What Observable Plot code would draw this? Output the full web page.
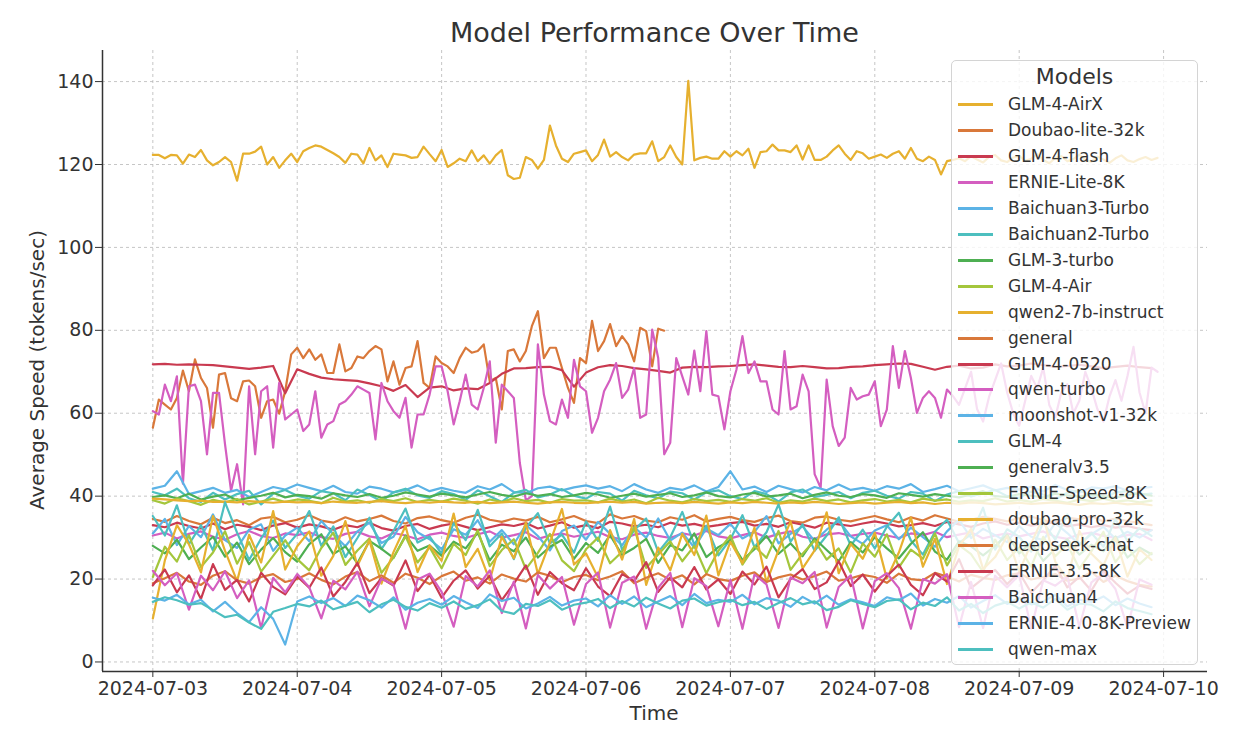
<!DOCTYPE html>
<html><head><meta charset="utf-8">
<script src="https://cdn.jsdelivr.net/npm/d3@7"></script>
<script src="https://cdn.jsdelivr.net/npm/@observablehq/plot@0.6"></script>
<style>
body{margin:0;background:#fff;font-family:"DejaVu Sans",sans-serif;}
#wrap{position:relative;width:1248px;height:730px;overflow:hidden;}
#title{position:absolute;left:102px;width:1105px;top:17px;text-align:center;font-size:27px;color:#333;white-space:nowrap;}
#ylab{position:absolute;left:37px;top:370px;transform:translate(-50%,-50%) rotate(-90deg);font-size:20px;color:#333;white-space:nowrap;}
#xlab{position:absolute;left:654px;top:713px;transform:translate(-50%,-50%);font-size:20px;color:#333;white-space:nowrap;}
#legend{position:absolute;left:951px;top:60px;width:247px;height:605px;background:rgba(255,255,255,0.8);border:1px solid #d4d4d4;border-radius:5px;box-sizing:border-box;}
#legend .lt{position:absolute;left:0;width:100%;top:3px;text-align:center;font-size:22px;color:#333;}
#legend .row{position:absolute;left:0;width:100%;height:24px;}
#legend .sw{position:absolute;left:6px;top:11px;width:35px;height:3px;}
#legend .tx{position:absolute;left:56px;top:0;line-height:24px;font-size:17px;color:#333;white-space:nowrap;}
</style></head>
<body><div id="wrap"><div id="title">Model Performance Over Time</div></div>
<script>
// ---- data ----
const seriesNames = ["GLM-4-AirX","Doubao-lite-32k","GLM-4-flash","ERNIE-Lite-8K","Baichuan3-Turbo","Baichuan2-Turbo","GLM-3-turbo","GLM-4-Air","qwen2-7b-instruct","general","GLM-4-0520","qwen-turbo","moonshot-v1-32k","GLM-4","generalv3.5","ERNIE-Speed-8K","doubao-pro-32k","deepseek-chat","ERNIE-3.5-8K","Baichuan4","ERNIE-4.0-8K-Preview","qwen-max"];
const palette = ["#E6B02F","#D9783A","#C93A50","#D45EC0","#5CB3E6","#4DBFBF","#4EAF52","#A4C63C"];
const startTime = "2024-07-03T00:00:00Z";
// sampling interval (hours) of each series
const stepHours = [1,1,2,1,2,2,2,2,2,2,2,2,2,2,2,2,2,2,2,2,2,2];

const glm4AirX = [122.3,122.3,121.5,122.3,122.2,120.2,122.4,121.8,123.5,121,119.8,120.6,121.8,120.6,116.1,122.6,122.6,123.1,124.3,120,121.8,119.2,121,122.6,120.6,
123.2,124,124.6,124.3,123.5,122.7,121.8,120.4,122.6,122.4,120.3,124,121,122.2,119.4,122.6,122.4,122.2,121.6,121.8,124.3,122.5,120.8,123.5,
119.4,120.3,121.4,120.8,123.4,120.8,122.2,120.2,122.2,123.5,117.4,116.5,116.8,121.8,121.1,119,121.1,
129.4,124.6,121.4,120.6,122.6,123,123.4,120.8,122.3,126,121.9,123,121.8,121,122.4,122.7,122.7,125.6,120.8,121.8,124.6,121.8,120,140.2,121,121.6,121.9,121.4,121.4,123.2,121.9,123.2,122.2,123.8,119.2,123,123.2,124.8,123.4,123.4,123,124.6,121.2,124.6,121.1,121.1,121.9,123.4,124.6,122.6,121.1,123.2,122.7,121.4,121.9,122.4,121.6,122.6,123.2,121.4,124,121.4,120.8,121.9,121.1,117.6,120.8,121.1,
121.5,120.8,122.0,121.2,120.5,121.8,122.3,121.0,120.6,121.7,122.1,120.9,121.4,122.5,121.1,120.3,121.6,122.0,120.8,121.3,122.4,121.0,120.7,121.9,121.2,120.4,121.5,122.2,121.0,120.6,121.3,121.8,121.1,121.6];

const doubaoLite32k = [56.5,63.3,62.1,60.9,63.7,70.3,65.3,73,68.5,66.1,56.5,69.3,69.7,63.6,62.9,67.7,67.9,66.5,58.9,62.9,63.3,59.9,65.3,
74.2,75.8,73.3,75.4,72.9,74.2,69.7,69.7,76.6,70.1,70.9,73.7,73.3,75,76.2,75.4,67.7,72.5,66.9,70.9,71.3,77.4,67.3,66.1,73.7,72.1,71.3,69.7,73.3,75.8,74.6,75,76.6,67.7,68.5,60.9,75,75.4,72.5,75,81,84.6,
73.3,75.8,75.8,70.9,66.1,62.5,73.3,72.1,82.3,75,77.4,81.5,76.2,78.6,76.6,72.5,80.6,79.8,71.3,80.4,79.9];

const glm4Flash = [71.8,71.9,71.7,71.8,71.7,71.6,71.3,71.0,70.7,71.0,71.4,64.8,
70.6,69.5,68.6,68.2,68.0,67.8,67.2,66.5,65.4,66.8,63.9,66.2,
66.5,65.5,66.0,65.8,67.3,69.5,70.8,70.9,71.1,71.2,70.4,66.4,
69.8,71.1,71.6,71.4,70.9,70.6,70.2,69.8,71.0,71.2,71.1,71.3,
71.4,71.6,71.8,71.5,71.2,71.1,71.4,71.1,70.8,70.9,71.2,71.3,
71.6,71.8,72.0,71.9,71.2,70.5,71.2,71.5,70.8,71.0,71.8,71.3,
71.5,72.0,71.6,71.2,71.4,71.7,71.3,70.9,71.2,71.5,71.1,70.9];

const ernieLite8K = [60.5,59.7,66.9,62.9,68.9,43,66.5,66.9,62.9,50.1,64.9,64.9,52.5,41.3,47.7,38,66.5,50.1,65.3,66.5,51.7,67.3,58.5,59.7,
60.9,55.7,57.3,65.3,54.1,57.3,58.1,62.1,62.9,64.5,66.5,65.7,64.9,53.7,67.3,62.9,60.5,58.9,63.7,51.7,59.7,59.7,64.5,71.3,
71.3,65.3,57.3,62.9,69.3,62.1,60.9,66.1,72.5,52.9,66.9,65.3,63.7,48,39,40,76.6,64.5,
58.1,57.3,63.3,58.9,72.9,66.5,65.3,55.3,58.9,65.3,68.1,72.1,63.7,65.7,70.9,58.9,59.7,80.2,73.3,50.1,52.9,73.3,68.9,64.5,75.1,65.3,79.8,64.5,64.1,56.1,65.3,70.5,78.6,69.7,72.5,67.7,67.7,60.9,59.7,75,60.9,61.7,69.3,65.3,45.3,42,68.1,56.9,52.1,54.1,66.1,63.3,64.1,64.5,67.7,56.9,60.9,76.2,66.1,75,68.5,60.1,63.7,65.3,63.7,58.9,65.7,64.1,
62,66,70,61,58,64,68,72,65,60,57,63,69,66,71,62,59,65,67,60,63,70,66,61,58,64,68,63,69,76,65,60,71,70];

const baichuan3Turbo = [41.8,42.5,46.0,40.5,41.2,42.0,40.8,41.5,39.8,41.0,42.2,41.6,
42.8,42.0,41.2,42.5,41.0,40.6,42.3,41.8,40.9,41.5,42.6,41.2,
42.0,41.3,40.8,42.4,41.6,42.9,41.0,40.7,41.9,42.3,41.4,42.1,
42.6,41.8,42.4,41.2,42.9,41.6,40.8,42.0,41.5,42.6,41.1,42.2,
46.0,41.6,42.3,41.0,42.5,41.7,40.9,42.2,41.4,42.8,41.5,42.0,
41.3,42.4,41.8,42.9,41.0,41.7,42.5,41.2,41.9,42.6,41.4,42.0,
41.6,42.3,41.1,42.7,41.5,40.9,42.1,41.8,42.4,41.3,41.9,42.2];

const baichuan2Turbo = [41.0,40.2,41.8,39.5,38.6,40.8,39.2,40.5,41.3,38.0,40.6,41.5,
40.1,39.4,41.2,40.7,39.0,41.6,40.3,38.8,40.9,41.8,40.2,39.6,
41.2,40.5,39.1,41.4,40.0,38.6,40.8,41.5,39.7,40.4,41.7,40.1,
39.4,41.0,40.6,38.9,41.3,40.2,39.5,41.1,40.7,39.2,40.9,41.4,
40.0,39.3,41.2,40.5,38.7,40.9,41.6,39.8,40.3,41.0,39.5,40.8,
41.3,40.1,39.4,41.0,40.6,38.8,40.4,41.2,39.9,40.7,41.5,40.0,
39.6,41.1,40.4,39.2,40.8,41.4,40.1,39.5,40.9,41.2,40.3,40.6];

const glm3Turbo = [39.8,40.2,39.5,40.6,39.2,39.9,40.4,39.0,39.6,40.1,40.8,39.7,
40.3,40.0,39.4,40.7,40.2,39.8,40.5,39.6,40.1,40.9,40.4,39.9,
40.6,40.2,39.7,40.4,41.0,40.3,39.9,40.7,40.1,40.5,39.8,40.2,
40.8,40.4,39.6,40.1,40.6,39.9,40.3,40.7,39.8,40.2,40.9,40.0,
39.7,40.4,40.8,39.9,40.2,40.6,39.5,40.3,40.9,40.1,39.8,40.5,
40.2,39.6,40.7,40.3,39.9,40.5,40.1,39.7,40.4,41.2,40.0,39.8,
40.5,40.1,39.7,40.6,40.2,39.9,40.4,40.0,39.6,40.3,40.7,40.1];

const glm4Air = [39.0,38.2,39.5,38.8,37.9,39.1,38.5,39.3,38.0,38.7,39.4,38.6,
39.2,38.9,38.3,39.6,38.7,39.0,38.4,39.3,38.8,39.5,38.6,39.1,
38.7,39.4,38.9,38.2,39.2,38.6,39.5,38.8,39.1,38.4,39.3,38.9,
39.0,38.5,39.4,38.7,39.2,38.3,39.6,38.9,38.5,39.3,38.8,39.1,
38.6,39.3,38.9,39.5,38.4,39.0,38.7,39.4,38.8,39.2,38.5,39.0,
39.3,38.7,39.1,38.5,39.4,38.9,39.2,38.6,39.0,38.8,39.5,38.7,
39.1,38.6,39.3,38.9,38.4,39.2,38.8,39.4,38.7,39.0,38.5,38.9];

const qwen27bInstruct = [39.4,39.2,39.0,38.8,38.9,38.6,38.7,38.5,38.8,38.6,38.4,38.7,
38.5,38.6,38.3,38.7,38.5,38.4,38.6,38.8,38.5,38.3,38.6,38.4,
38.7,38.5,38.4,38.6,38.3,38.5,38.7,38.4,38.2,38.5,38.6,38.4,
38.3,38.5,38.7,38.4,38.6,38.2,38.4,38.5,38.3,38.6,38.4,38.2,
38.5,38.3,38.6,38.4,38.2,38.5,38.3,38.6,38.4,38.1,38.3,38.5,
38.2,38.4,38.6,38.3,38.5,38.1,38.4,38.2,38.5,38.3,38.0,38.2,
38.4,38.1,38.3,38.5,38.2,37.9,38.3,38.1,38.4,38.0,38.2,37.8];

const general = [34.5,33.8,35.2,34.0,33.2,34.8,33.5,34.2,33.0,34.6,35.0,33.7,
34.3,35.4,34.1,33.6,34.9,33.9,34.5,35.3,34.0,33.4,34.7,35.1,
34.2,33.6,34.8,35.5,34.3,33.8,34.6,34.1,35.0,33.7,34.4,35.2,
34.0,33.5,35.6,34.6,35.2,34.1,33.7,34.9,34.3,35.4,33.9,34.5,
35.0,34.2,33.8,34.7,35.3,34.0,33.6,34.8,35.1,34.3,33.9,34.6,
35.2,34.4,33.7,34.9,34.1,35.4,34.6,33.8,34.3,35.0,34.5,33.9,
34.7,35.1,34.2,33.6,34.8,34.4,35.2,33.9,34.6,34.0,33.5,33.0];

const glm40520 = [33.0,32.5,33.6,32.8,32.2,33.4,32.0,33.1,32.6,31.8,32.9,33.5,
32.4,33.2,32.7,31.9,33.0,32.5,33.6,32.3,31.7,32.8,33.3,32.1,
32.9,33.4,32.6,31.8,32.5,33.2,32.8,33.5,32.2,32.9,33.7,32.4,
33.0,32.3,33.8,33.4,32.7,33.1,32.5,33.6,32.9,33.3,32.6,33.0,
33.5,33.8,32.9,33.3,32.6,33.7,33.1,32.4,33.6,33.2,32.8,33.4,
33.9,33.4,32.7,33.0,33.5,32.8,33.8,33.2,32.6,33.4,33.9,33.1,
33.6,32.9,33.3,33.7,32.7,33.2,32.5,33.0,32.4,32.8,32.1,31.8];

const qwenTurbo = [30.5,31.2,29.8,30.9,31.5,30.2,29.5,30.8,31.6,30.4,29.9,31.0,
30.6,31.3,30.1,29.7,30.9,31.4,30.3,29.8,31.1,30.5,29.6,30.7,
31.2,30.4,29.9,30.8,31.5,30.0,30.6,31.3,29.7,30.5,31.0,30.2,
30.8,31.4,30.1,29.6,30.7,31.2,30.4,29.9,31.0,30.5,31.6,30.3,
29.8,30.6,31.3,30.0,30.9,31.5,30.2,29.7,30.8,31.1,30.4,30.9,
31.2,30.5,29.9,31.0,30.6,31.4,30.1,30.7,31.3,29.8,30.5,31.0,
30.3,30.9,31.5,30.2,29.7,30.8,31.2,30.4,30.0,30.6,30.9,29.4];

const moonshotV132k = [31.0,34.5,28.2,32.8,30.1,35.6,29.4,27.5,31.9,33.2,26.8,30.5,
32.4,29.1,34.0,30.8,27.9,31.5,33.6,28.7,30.2,35.0,31.3,29.6,
27.2,32.0,30.7,34.2,29.0,31.8,28.4,33.1,30.4,26.9,31.6,32.9,
29.5,33.8,30.9,28.1,32.5,30.0,34.6,29.3,31.2,27.6,32.2,30.6,
33.3,29.8,31.4,35.2,28.6,30.9,32.7,29.2,31.9,34.1,30.3,28.5,
31.7,33.0,29.6,32.4,30.1,27.8,31.5,34.3,29.9,32.1,30.6,28.9,
32.8,30.2,29.4,33.5,31.1,28.3,30.8,32.6,29.7,31.4,30.0,31.8];

const glm4 = [35.2,30.5,37.8,28.4,33.0,26.9,38.5,31.2,24.6,29.8,34.1,27.5,
30.9,36.4,28.0,32.7,25.3,29.9,34.8,27.2,31.6,37.0,28.8,30.3,
26.1,33.5,29.4,36.7,27.9,31.0,24.8,32.4,35.9,28.6,30.7,26.4,
33.9,29.2,37.5,27.0,31.8,34.6,26.5,30.1,36.2,28.3,32.9,25.7,
29.6,35.4,27.7,31.3,38.0,29.0,33.2,26.8,30.5,34.9,28.1,31.9,
27.4,32.6,36.0,29.3,25.9,31.4,34.3,28.7,30.8,37.2,27.1,32.0,
30.2,26.6,33.7,29.5,35.6,28.2,31.1,27.8,34.5,29.1,32.3,30.4];

const generalV35 = [28.0,26.2,29.5,24.8,27.6,30.2,25.4,28.8,23.6,27.1,29.9,26.5,
24.2,28.4,30.8,26.0,27.9,23.8,29.2,27.3,25.1,30.5,26.8,28.1,
25.6,29.0,27.4,31.2,24.5,28.3,26.7,30.0,25.2,27.8,29.4,24.9,
28.7,26.3,30.6,25.8,27.5,29.7,23.9,28.2,26.9,31.0,25.3,27.7,
29.3,24.6,27.2,30.4,26.1,28.6,25.5,29.8,27.0,24.3,28.9,26.4,
30.1,27.4,25.0,28.5,31.3,26.6,24.7,29.1,27.9,25.7,28.0,30.7,
26.2,28.8,24.4,27.3,29.6,25.9,28.3,26.7,30.3,25.2,27.6,26.0];

const ernieSpeed8K = [20.5,27.8,24.2,30.6,22.9,26.4,31.5,23.7,28.9,21.8,25.6,29.4,
24.8,22.1,27.5,31.2,23.4,26.9,29.8,21.5,25.2,30.3,24.0,27.7,
22.6,28.5,25.8,31.8,23.1,27.0,29.6,22.4,26.3,30.9,24.5,21.9,
27.2,30.0,23.8,26.6,32.4,22.7,25.9,29.1,24.3,28.0,21.4,26.8,
30.5,23.5,27.9,25.1,31.6,22.2,26.1,29.3,24.7,27.4,21.6,28.6,
25.4,30.8,22.8,27.1,24.9,31.0,23.3,28.2,26.0,21.7,29.5,24.6,
27.6,23.0,30.2,25.5,28.4,22.5,26.7,31.4,24.1,27.9,23.6,26.3];

const doubaoPro32k = [10.5,24.5,33.0,28.4,21.6,35.2,26.8,19.5,30.7,24.0,36.4,22.3,
27.9,31.5,20.8,25.6,34.0,23.2,29.3,18.9,26.5,32.8,21.7,28.1,
24.4,35.8,22.9,27.3,19.7,30.2,25.0,33.6,21.2,28.8,36.9,23.5,
26.2,20.4,31.8,24.7,34.5,18.6,27.6,22.1,30.9,25.8,35.3,20.9,
29.0,23.8,32.4,19.2,27.0,33.9,22.6,26.9,36.1,21.4,28.5,24.9,
31.2,20.1,26.4,34.8,23.0,29.7,18.8,27.8,32.1,22.4,25.3,30.4,
21.8,28.6,35.0,24.2,19.9,31.6,26.1,23.3,29.9,20.6,27.2,24.6];

const deepseekChat = [19.0,20.2,21.5,19.4,18.6,20.8,21.9,19.7,18.9,20.5,21.2,19.3,
20.0,21.4,19.8,18.7,20.6,21.7,19.5,20.9,19.1,21.3,20.3,18.8,
20.7,21.8,19.6,20.4,18.9,21.1,20.1,19.4,21.6,20.8,19.2,20.5,
21.0,19.7,20.6,21.9,19.0,20.3,21.4,19.8,20.9,18.7,21.2,20.0,
19.5,20.8,21.6,19.3,20.4,21.1,19.9,20.7,21.8,19.6,20.2,21.0,
20.5,19.1,21.3,20.0,19.7,21.5,20.6,19.4,21.0,20.3,19.8,20.9,
21.4,19.9,20.5,21.2,19.6,20.1,21.7,19.3,20.8,19.5,18.6,18.2];

const ernie35_8K = [18.5,22.3,16.8,20.9,15.2,23.6,17.4,19.8,14.6,21.5,18.1,16.3,
20.6,17.9,22.8,15.8,19.3,23.9,16.6,20.2,18.4,24.5,17.1,21.0,
15.5,19.6,22.1,17.7,20.8,14.9,18.9,23.3,16.2,21.7,19.0,17.3,
22.6,18.2,15.9,21.2,19.5,24.1,16.9,20.4,18.0,22.9,17.5,19.9,
16.4,21.8,18.7,23.0,15.6,20.0,22.4,17.6,19.2,24.3,18.3,21.1,
17.0,20.7,23.5,18.6,16.1,21.4,19.4,24.8,17.8,20.1,22.2,18.8,
21.6,16.7,19.7,23.2,18.0,20.5,17.2,22.0,19.1,16.5,18.4,17.6];

const baichuan4 = [22.0,18.5,21.4,12.6,20.8,17.3,21.9,15.4,19.7,8.2,20.3,16.8,
21.2,18.0,10.5,19.6,17.5,21.8,13.4,20.1,18.6,8.0,19.9,21.3,
16.9,8.5,20.7,18.2,22.1,11.8,19.4,8.1,21.0,17.7,20.5,9.0,
18.8,21.6,8.3,19.1,20.6,8.0,17.9,21.5,8.4,20.2,18.3,8.6,
19.8,8.0,21.1,18.7,8.2,20.4,19.0,21.7,8.3,18.1,20.9,8.1,
19.5,21.4,17.8,8.0,20.0,18.9,21.2,8.4,19.3,8.2,20.8,18.0,
21.0,8.1,19.7,18.4,20.6,8.5,19.2,21.3,17.6,8.3,19.9,18.6];

const ernie40_8KPreview = [15.5,14.8,16.2,13.9,15.0,12.2,14.5,11.8,9.6,13.2,10.4,4.2,
14.6,15.8,14.2,15.4,13.5,16.0,14.9,13.1,15.6,12.6,14.3,15.2,
13.8,15.9,14.4,13.0,16.3,14.7,15.5,12.9,14.1,15.7,13.6,14.8,
15.3,13.4,16.1,14.0,15.8,13.2,14.6,15.9,13.7,16.4,14.2,15.0,
14.5,16.2,13.9,15.4,14.8,13.3,15.7,14.1,16.0,13.8,15.1,14.4,
13.5,15.6,14.9,16.5,13.6,15.2,14.3,15.9,13.1,14.7,16.1,14.0,
15.5,13.9,14.6,16.2,13.4,15.0,14.4,15.8,13.7,15.3,14.1,13.2];

const qwenMax = [14.5,15.6,14.9,13.8,14.2,12.5,10.8,11.4,9.5,8.0,12.1,13.0,
14.0,13.4,14.8,12.7,13.6,14.5,12.0,13.9,15.0,13.3,12.4,14.2,
13.1,14.6,12.8,13.7,15.1,12.3,11.6,14.0,13.5,14.9,12.6,13.8,
14.3,15.2,13.0,14.7,13.4,15.5,14.1,12.9,14.8,15.3,13.6,14.4,
15.0,13.7,14.5,12.8,14.2,15.4,13.9,14.6,12.5,13.3,14.9,14.0,
13.2,14.7,15.1,12.7,14.3,13.5,15.6,12.4,14.0,11.8,13.6,14.5,
12.9,14.4,13.1,15.2,12.6,14.1,13.8,12.2,14.6,13.0,12.3,11.5];

const seriesValues = [glm4AirX, doubaoLite32k, glm4Flash, ernieLite8K, baichuan3Turbo, baichuan2Turbo, glm3Turbo, glm4Air, qwen27bInstruct, general, glm40520, qwenTurbo, moonshotV132k, glm4, generalV35, ernieSpeed8K, doubaoPro32k, deepseekChat, ernie35_8K, baichuan4, ernie40_8KPreview, qwenMax];

const yTicks = [0, 20, 40, 60, 80, 100, 120, 140];
const xTickLabels = ["2024-07-03","2024-07-04","2024-07-05","2024-07-06","2024-07-07","2024-07-08","2024-07-09","2024-07-10"];

// ---- build ----
const t0 = new Date(startTime).getTime();
const rows = [];
seriesNames.forEach((name, k) => {
  seriesValues[k].forEach((v, i) => rows.push({name, date: new Date(t0 + i * stepHours[k] * 3600e3), value: v}));
});
const colors = seriesNames.map((_, k) => palette[k % palette.length]);
const xTicks = xTickLabels.map(s => new Date(s + "T00:00:00Z"));
const xDomain = [new Date("2024-07-02T15:38:00Z"), new Date("2024-07-10T07:18:00Z")];
const yDomain = [-2.3, 147.5];

const chart = Plot.plot({
  width: 1248, height: 730,
  marginTop: 50, marginBottom: 59, marginLeft: 102, marginRight: 41,
  style: {fontFamily: "DejaVu Sans, sans-serif", fontSize: "19px", color: "#333", background: "transparent"},
  x: {type: "utc", domain: xDomain},
  y: {domain: yDomain},
  color: {domain: seriesNames, range: colors},
  marks: [
    Plot.gridY(yTicks, {stroke: "#b8b8b8", strokeOpacity: 0.8, strokeDasharray: "3,3"}),
    Plot.gridX(xTicks, {stroke: "#b8b8b8", strokeOpacity: 0.8, strokeDasharray: "3,3"}),
    Plot.line(rows, {x: "date", y: "value", z: "name", stroke: "name", strokeWidth: 2.2, strokeLinejoin: "round"}),
    Plot.ruleX([xDomain[0]], {stroke: "#333", strokeWidth: 1.5}),
    Plot.ruleY([yDomain[0]], {stroke: "#333", strokeWidth: 1.5}),
    Plot.axisY(yTicks, {tickSize: 7, tickPadding: 2, label: null, stroke: "#333", fill: "#333"}),
    Plot.axisX(xTicks, {tickSize: 6, tickPadding: 4, label: null, tickFormat: d3.utcFormat("%Y-%m-%d"), stroke: "#333", fill: "#333"})
  ]
});
const wrap = document.getElementById("wrap");
wrap.insertBefore(chart, wrap.firstChild);

const ylab = document.createElement("div"); ylab.id = "ylab"; ylab.textContent = "Average Speed (tokens/sec)"; wrap.appendChild(ylab);
const xlab = document.createElement("div"); xlab.id = "xlab"; xlab.textContent = "Time"; wrap.appendChild(xlab);

const legend = document.createElement("div"); legend.id = "legend";
const lt = document.createElement("div"); lt.className = "lt"; lt.textContent = "Models"; legend.appendChild(lt);
seriesNames.forEach((name, k) => {
  const row = document.createElement("div"); row.className = "row";
  row.style.top = Math.round(43 + k * 25.95 - 12) + "px";
  const sw = document.createElement("span"); sw.className = "sw"; sw.style.background = colors[k];
  const tx = document.createElement("span"); tx.className = "tx"; tx.textContent = name;
  row.appendChild(sw); row.appendChild(tx); legend.appendChild(row);
});
wrap.appendChild(legend);
</script>
</body></html>
